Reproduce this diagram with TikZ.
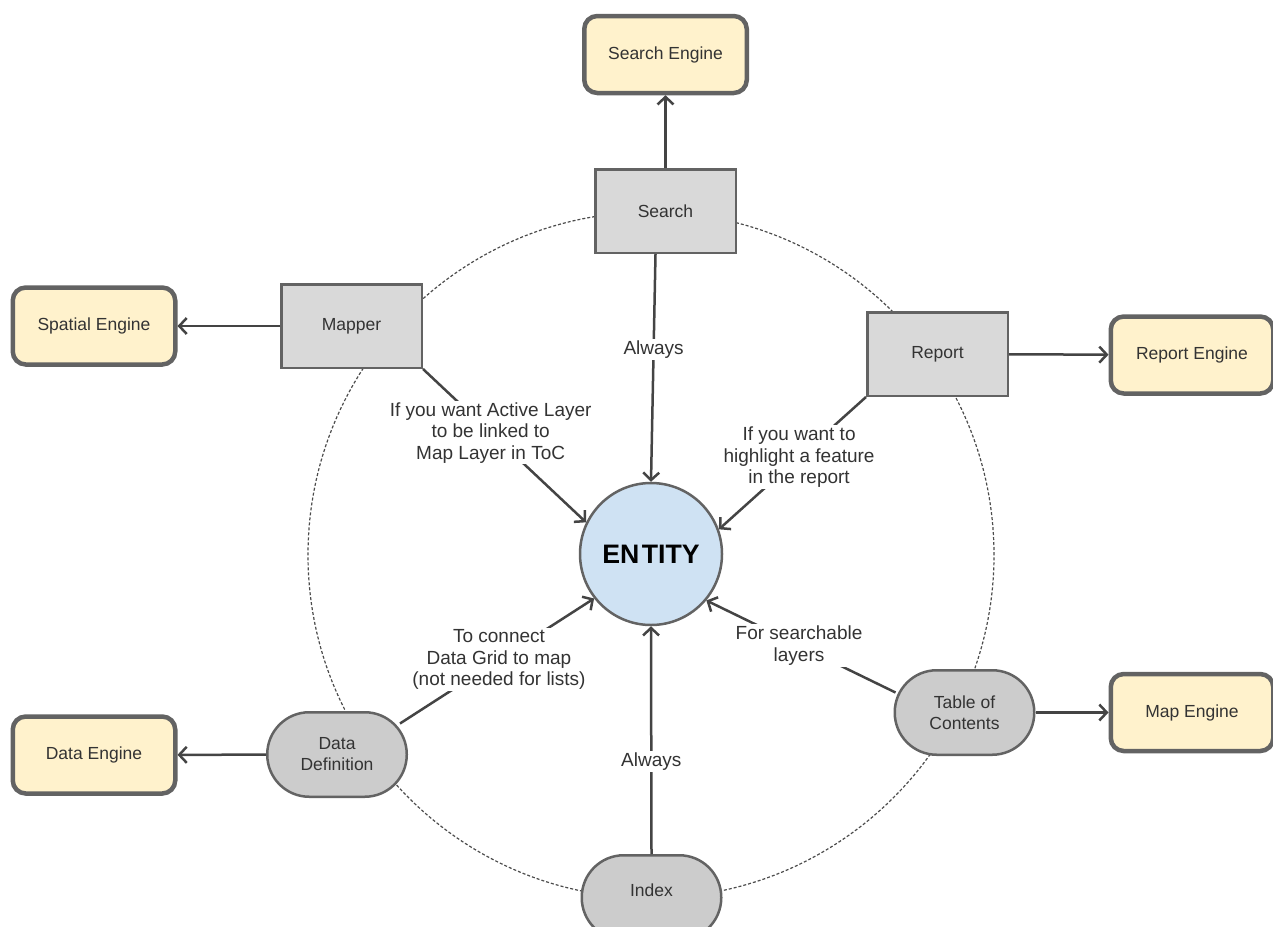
\documentclass[tikz,border=0pt]{standalone}
\usepackage{fontspec}
\setmainfont{Liberation Sans}
\usetikzlibrary{arrows.meta,calc}
\definecolor{engfill}{HTML}{FFF2CC}
\definecolor{boxfill}{HTML}{D9D9D9}
\definecolor{pillfill}{HTML}{CCCCCC}
\definecolor{entfill}{HTML}{CFE2F3}
\definecolor{edge}{HTML}{636363}
\definecolor{wire}{HTML}{444444}
\definecolor{ink}{HTML}{333333}
\begin{document}
\begin{tikzpicture}[x=1pt,y=-1pt,
  engine/.style={draw=edge, line width=4.5pt, fill=engfill, rounded corners=13pt,
    minimum width=162.5pt, minimum height=77pt, inner sep=0pt,
    font=\fontsize{17.5}{20}\selectfont, text=ink},
  module/.style={draw=edge, line width=2.5pt, fill=boxfill,
    minimum width=140.5pt, minimum height=83.5pt, inner sep=0pt,
    font=\fontsize{17.5}{20}\selectfont, text=ink},
  pill/.style={draw=edge, line width=2.5pt, fill=pillfill, rounded corners=42pt,
    minimum width=139.5pt, minimum height=84.5pt, inner sep=0pt, align=center,
    font=\fontsize{17.5}{21}\selectfont, text=ink},
  core/.style={circle, draw=edge, line width=2.5pt, fill=entfill,
    minimum size=142pt, inner sep=0pt, font=\bfseries\fontsize{26.7}{30}\selectfont},
  link/.style={draw=wire, line width=2.5pt,
    -{Straight Barb[length=7.5pt,width=16pt,line width=2.5pt]}},
  lbl/.style={fill=white, inner sep=1.5pt, align=center, text=ink,
    font=\fontsize{19}{21.5}\selectfont},
  orbit/.style={draw=black!70, line width=1.2pt, dash pattern=on 3pt off 2pt}
]
\useasboundingbox (0,0) rectangle (1273,926);

% dashed ring behind the modules
\draw[orbit] (651,555) circle[radius=343pt];

% engines
\node[engine] (seng) at (665.5,54.5) {Search Engine};
\node[engine] (speng) at (94,326) {Spatial Engine};
\node[engine] (reng) at (1192,355) {Report Engine};
\node[engine] (meng) at (1192,712.5) {Map Engine};
\node[engine] (deng) at (94,755) {Data Engine};

% modules
\node[module] (search) at (665.5,211) {Search};
\node[module] (mapper) at (351.5,326) {Mapper};
\node[module] (report) at (937.5,354) {Report};
\node[pill] (ddef) at (337,754.5) {Data\\Definition};
\node[pill] (toc) at (964.5,712.5) {Table of\\Contents};
\node[pill] (index) at (651.5,897.5) {\raisebox{1.5pt}[0pt][0pt]{Index}};

% centre
\node[core] (entity) at (651,554) {EN\kern2.5pt TITY};

% module to engine
\draw[link] (search) -- (seng);
\draw[link] (mapper) -- (speng);
\draw[link] (report) -- (reng);
\draw[link] (toc) -- (meng);
\draw[link] (ddef) -- (deng);

% module to entity
\draw[link] ($(search.south)+(-10,0)$) -- node[lbl, pos=0.42] {Always} (entity.north);
\draw[link] (mapper.south east) -- node[lbl, pos=0.415]
  {If you want Active Layer\\to be linked to\\Map Layer in ToC} (entity.154);
\draw[link] (report.south west) -- node[lbl, pos=0.455]
  {If you want to\\highlight a feature\\in the report} (entity.20);
\draw[link] ($(ddef.center)+(63,-31)$) -- node[lbl, pos=0.51]
  {To connect\\Data Grid to map\\(not needed for lists)} (entity.218);
\draw[link] ($(toc.center)+(-69,-20)$) -- node[lbl, pos=0.51]
  {For searchable\\layers} (entity.-40);
\draw[link] (index.north) -- node[lbl, pos=0.406] {Always} (entity.south);
\end{tikzpicture}
\end{document}
